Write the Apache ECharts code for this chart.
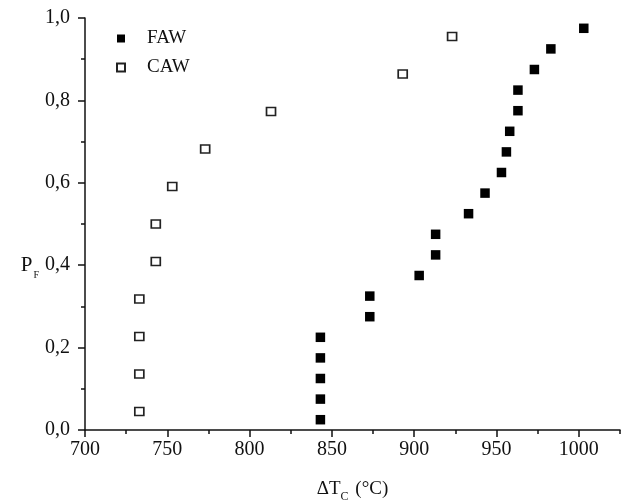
<!DOCTYPE html>
<html>
<head>
<meta charset="utf-8">
<script src="https://cdn.jsdelivr.net/npm/echarts@6/dist/echarts.min.js"></script>
<style>html,body{margin:0;padding:0;background:#fff}#c{width:626px;height:501px}</style>
</head>
<body>
<div id="c"></div>
<script>
var fawX = [843, 843, 843, 843, 843, 873, 873, 903, 913, 913, 933, 943, 953, 956, 958, 963, 963, 973, 983, 1003];
var fawP = [0.025, 0.075, 0.125, 0.175, 0.225, 0.275, 0.325, 0.375, 0.425, 0.475, 0.525, 0.575, 0.625, 0.675, 0.725, 0.775, 0.825, 0.875, 0.925, 0.975];
var cawX = [733, 733, 733, 733, 743, 743, 753, 773, 813, 893, 923];
var cawP = [0.045, 0.136, 0.227, 0.318, 0.409, 0.5, 0.591, 0.682, 0.773, 0.864, 0.955];
var xMajorTicks = [700, 750, 800, 850, 900, 950, 1000];
var yTickLabels = ['0,0', '0,2', '0,4', '0,6', '0,8', '1,0'];

function pairs(xs, ys) { return xs.map(function (x, i) { return [x, ys[i]]; }); }

var serif = '"Liberation Serif", "Times New Roman", serif';
var chart = echarts.init(document.getElementById('c'));
chart.setOption({
  animation: false,
  backgroundColor: '#fff',
  textStyle: { fontFamily: serif },
  grid: { left: 85, top: 18, right: 6, bottom: 71, containLabel: false, outerBoundsMode: 'none' },
  legend: {
    orient: 'vertical', left: 111, top: 24, itemWidth: 8, itemHeight: 8, itemGap: 10,
    textStyle: { fontFamily: serif, fontSize: 19, color: '#111', padding: [0, 0, 0, 17] },
    data: ['FAW', 'CAW']
  },
  xAxis: [{
    type: 'value', min: 700, max: 1025, interval: 50,
    axisLine: { show: true, lineStyle: { color: '#111', width: 1.5 } },
    axisTick: { show: true, length: 7, lineStyle: { color: '#111', width: 1.5 }, customValues: xMajorTicks },
    axisLabel: { color: '#111', fontSize: 20, fontFamily: serif, margin: 10, customValues: xMajorTicks,
      formatter: function (v) { return String(v); } },
    splitLine: { show: false },
    name: '{a|ΔT}{b|C}{a| (°C)}', nameLocation: 'middle', nameGap: 48,
    nameTextStyle: { rich: {
      a: { fontSize: 19, fontFamily: serif, color: '#111', lineHeight: 22 },
      b: { fontSize: 12, fontFamily: serif, color: '#111', lineHeight: 22, verticalAlign: 'bottom', padding: [0, 2, -3, 0] }
    } }
  }, {
    type: 'value', min: 700, max: 1025, interval: 25, position: 'bottom',
    axisLine: { show: false }, axisLabel: { show: false }, splitLine: { show: false },
    axisTick: { show: true, length: 4, lineStyle: { color: '#111', width: 1.5 } }
  }],
  yAxis: {
    type: 'value', min: 0, max: 1, interval: 0.2,
    axisLine: { show: true, lineStyle: { color: '#111', width: 1.5 } },
    axisTick: { show: true, length: 7, lineStyle: { color: '#111', width: 1.5 } },
    minorTick: { show: true, splitNumber: 2, length: 4, lineStyle: { color: '#111', width: 1.5 } },
    axisLabel: { color: '#111', fontSize: 20, fontFamily: serif, margin: 15,
      formatter: function (v) { return yTickLabels[Math.round(v / 0.2)]; } },
    splitLine: { show: false },
    name: '{a|P}{b|F}', nameLocation: 'middle', nameGap: 41, nameRotate: 0,
    nameTextStyle: { padding: [82, 0, 0, 0], rich: {
      a: { fontSize: 21, fontFamily: serif, color: '#111', lineHeight: 24 },
      b: { fontSize: 10, fontFamily: serif, color: '#111', lineHeight: 24, verticalAlign: 'bottom', padding: [0, 0, -3, 1] }
    } }
  },
  series: [{
    name: 'FAW', type: 'scatter', xAxisIndex: 0, symbol: 'rect', symbolSize: [9.5, 9.5],
    itemStyle: { color: '#000', opacity: 1 },
    data: pairs(fawX, fawP)
  }, {
    name: 'CAW', type: 'scatter', xAxisIndex: 0, symbol: 'rect', symbolSize: [9, 8],
    itemStyle: { color: '#fff', borderColor: '#222', borderWidth: 1.6, opacity: 1 },
    data: pairs(cawX, cawP)
  }]
});
</script>
</body>
</html>
